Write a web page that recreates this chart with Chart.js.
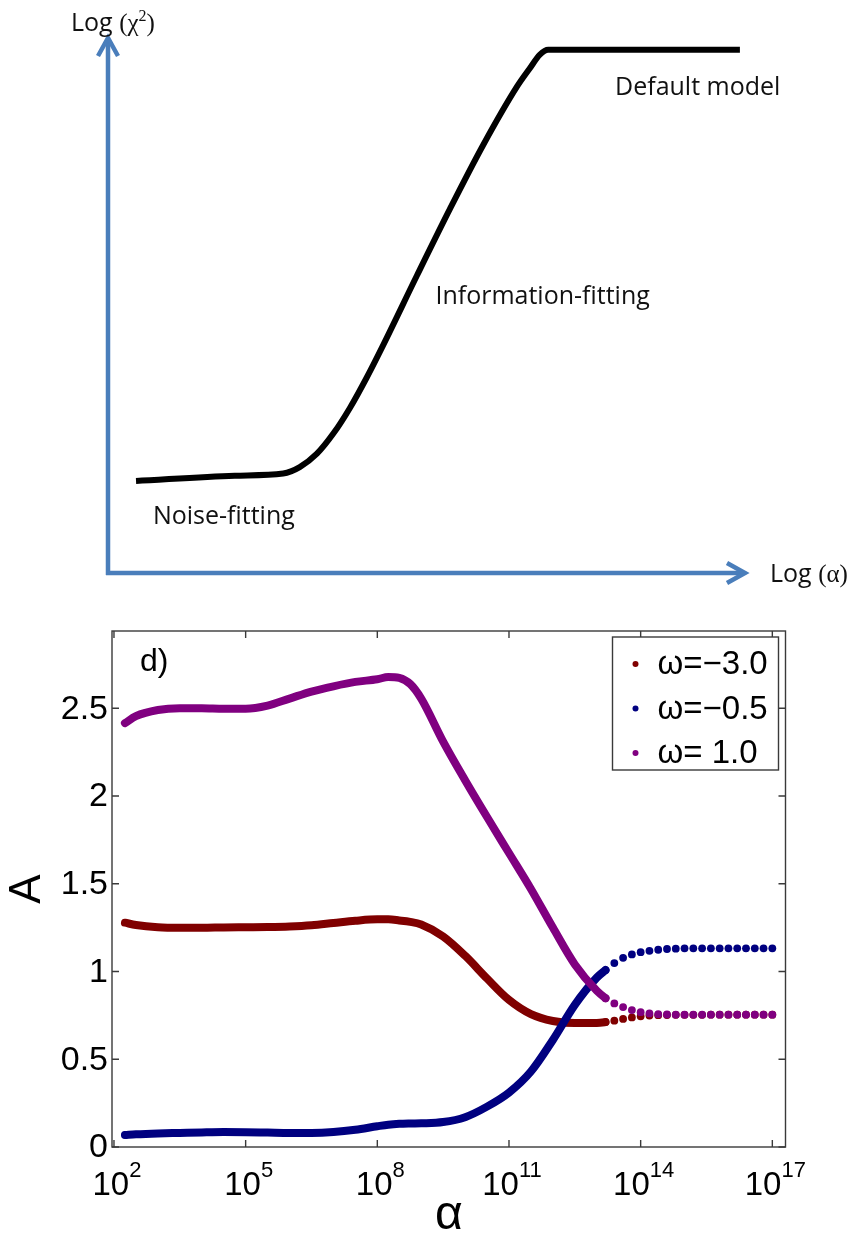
<!DOCTYPE html>
<html>
<head>
<meta charset="utf-8">
<script src="https://cdn.jsdelivr.net/npm/chart.js@4.4.0/dist/chart.umd.min.js"></script>
<style>
    body { margin: 0; background: #fff; }
    canvas { display: block; }
</style>
</head>
<body>
<canvas id="grafico-esquema" width="856" height="600"></canvas>
<canvas id="grafico-alpha" width="856" height="634"></canvas>
<script>
// ---------------------------- dados do esquema (painel de cima) ---------------
const curveX = [4.4, 19.9, 27.5, 30.1, 32.8, 35.4, 38.0, 40.6, 43.2, 48.5, 53.7, 58.9, 64.2, 66.2, 67.8, 69.1, 99.2];
const curveY = [17.2, 18.2, 18.6, 19.8, 22.3, 26.1, 30.9, 36.5, 42.6, 55.6, 68.1, 80.0, 90.9, 94.3, 96.9, 97.8, 97.8];

// ---------------------------- dados de A(alpha) (painel de baixo) ---------------
// expoentes de alpha (alpha = 10^e)
const alphaExp = [2.25, 2.5, 3, 3.5, 4, 4.5, 5, 5.5, 6, 6.5, 7, 7.5, 8, 8.25, 8.5, 8.75, 9, 9.5, 10, 10.5, 11, 11.5, 12, 12.5, 13,
    13.2, 13.4, 13.6, 13.8, 14, 14.2, 14.4, 14.6, 14.8, 15, 15.2, 15.4, 15.6, 15.8, 16, 16.2, 16.4, 16.6, 16.8, 17];

const aOmegaM30 = [1.278, 1.265, 1.252, 1.249, 1.249, 1.251, 1.252, 1.253, 1.256, 1.263, 1.276, 1.289, 1.297, 1.297, 1.291, 1.283,
    1.268, 1.200, 1.090, 0.960, 0.838, 0.757, 0.718, 0.706, 0.707,
    0.712, 0.720, 0.730, 0.738, 0.745, 0.749, 0.751, 0.752, 0.753, 0.753, 0.753, 0.753, 0.754, 0.754, 0.754, 0.754,
    0.754, 0.754, 0.754, 0.754];

const aOmegaM05 = [0.068, 0.072, 0.077, 0.080, 0.083, 0.085, 0.084, 0.082, 0.080, 0.080, 0.085, 0.098, 0.118, 0.127, 0.132, 0.134,
    0.135, 0.142, 0.170, 0.230, 0.310, 0.430, 0.610, 0.810, 0.965,
    1.008, 1.048, 1.078, 1.097, 1.110, 1.118, 1.124, 1.128, 1.130, 1.132, 1.132, 1.132, 1.132, 1.132, 1.132, 1.132,
    1.132, 1.132, 1.132, 1.132];

const aOmegaP10 = [2.415, 2.455, 2.490, 2.500, 2.500, 2.497, 2.497, 2.515, 2.555, 2.595, 2.625, 2.650, 2.665, 2.678, 2.673, 2.638,
    2.555, 2.310, 2.090, 1.880, 1.675, 1.470, 1.250, 1.040, 0.890,
    0.848, 0.818, 0.797, 0.780, 0.768, 0.761, 0.757, 0.755, 0.754, 0.754, 0.754, 0.754, 0.754, 0.754, 0.754, 0.754,
    0.754, 0.754, 0.754, 0.754];

const seriesLabels = ['ω=−3.0', 'ω=−0.5', 'ω= 1.0'];
const xTickExp = [2, 5, 8, 11, 14, 17];
const yTicks = [0, 0.5, 1, 1.5, 2, 2.5];
const yTickLabels = ['0', '0.5', '1', '1.5', '2', '2.5'];

// a partir daqui os pontos aparecem separados
const dotStart = 13.2;

const SANS = '"Liberation Sans", Arial, sans-serif';
const CALIBRI = '"Open Sans", "Noto Sans", sans-serif';
const SERIF = '"Liberation Serif", "Times New Roman", serif';

function textoMisto(ctx, partes, x, y) {
    partes.forEach(function (p) {
        ctx.font = p.font;
        ctx.fillText(p.t, x, y + (p.dy || 0));
        x += ctx.measureText(p.t).width;
    });
}

//---------------------------- painel de cima: esquema chi2 x alpha ---------------

const esquemaPlugin = {
    id: 'esquema',
    beforeDatasetsDraw(chart) {
        const ctx = chart.ctx;
        const a = chart.chartArea;
        ctx.save();
        ctx.strokeStyle = '#4a7ebb';
        ctx.lineWidth = 4.5;
        ctx.lineCap = 'butt';
        ctx.beginPath();
        ctx.moveTo(a.left, a.bottom + 2);
        ctx.lineTo(a.left, a.top + 3);
        ctx.moveTo(a.left - 2, a.bottom);
        ctx.lineTo(a.right - 3, a.bottom);
        ctx.stroke();

        ctx.lineJoin = 'miter';
        ctx.beginPath();
        ctx.moveTo(a.left - 10, a.top + 18);
        ctx.lineTo(a.left, a.top);
        ctx.lineTo(a.left + 10, a.top + 18);
        ctx.moveTo(a.right - 18, a.bottom - 10);
        ctx.lineTo(a.right, a.bottom);
        ctx.lineTo(a.right - 18, a.bottom + 10);
        ctx.stroke();

        ctx.fillStyle = '#111';
        ctx.textAlign = 'left';
        ctx.textBaseline = 'alphabetic';
        textoMisto(ctx, [
            { t: 'Log ', font: '25px ' + CALIBRI },
            { t: '(χ', font: '25px ' + SERIF },
            { t: '2', font: '16px ' + SERIF, dy: -10 },
            { t: ')', font: '25px ' + SERIF }
        ], a.left - 37, a.top - 7);
        textoMisto(ctx, [
            { t: 'Log ', font: '25px ' + CALIBRI },
            { t: '(α)', font: '25px ' + SERIF }
        ], a.right + 25, a.bottom + 9);

        const sx = chart.scales.x;
        const sy = chart.scales.y;
        ctx.font = '25px ' + CALIBRI;
        ctx.fillText('Noise-fitting', sx.getPixelForValue(7.05), sy.getPixelForValue(9.2));
        ctx.fillText('Information-fitting', sx.getPixelForValue(51.4), sy.getPixelForValue(50.3));
        ctx.fillText('Default model', sx.getPixelForValue(79.6), sy.getPixelForValue(89.3));
        ctx.restore();
    }
};

const dataEsquema = {
    datasets: [{
        data: curveX.map(function (v, i) { return { x: v, y: curveY[i] }; }),
        borderColor: '#000',
        borderWidth: 6,
        pointRadius: 0,
        cubicInterpolationMode: 'monotone',
        borderCapStyle: 'butt',
        borderJoinStyle: 'round',
        fill: false
    }]
};

const configEsquema = {
    type: 'line',
    data: dataEsquema,
    options: {
        responsive: false,
        animation: false,
        layout: { padding: { left: 108, right: 111, top: 38, bottom: 27 } },
        plugins: { legend: { display: false }, tooltip: { enabled: false } },
        scales: {
            x: { type: 'linear', min: 0, max: 100, display: false },
            y: { type: 'linear', min: 0, max: 100, display: false }
        }
    },
    plugins: [esquemaPlugin]
};

const graficoEsquema = new Chart(document.getElementById('grafico-esquema'), configEsquema);

//---------------------------- painel de baixo: A x alpha ---------------

const molduraPlugin = {
    id: 'moldura',
    afterDraw(chart) {
        const ctx = chart.ctx;
        const a = chart.chartArea;
        const x = chart.scales.x;
        const y = chart.scales.y;
        ctx.save();

        // caixa e ticks para dentro
        ctx.strokeStyle = '#3a3a3a';
        ctx.lineWidth = 1.4;
        ctx.strokeRect(a.left, a.top, a.right - a.left, a.bottom - a.top);
        ctx.beginPath();
        xTickExp.forEach(function (e) {
            const px = x.getPixelForValue(Math.pow(10, e));
            ctx.moveTo(px, a.bottom); ctx.lineTo(px, a.bottom - 7);
            ctx.moveTo(px, a.top); ctx.lineTo(px, a.top + 7);
        });
        yTicks.forEach(function (v) {
            const py = y.getPixelForValue(v);
            ctx.moveTo(a.left, py); ctx.lineTo(a.left + 7, py);
            ctx.moveTo(a.right, py); ctx.lineTo(a.right - 7, py);
        });
        ctx.stroke();

        // rotulos
        ctx.fillStyle = '#000';
        ctx.textBaseline = 'middle';
        ctx.textAlign = 'right';
        ctx.font = '34px ' + SANS;
        yTicks.forEach(function (v, i) {
            ctx.fillText(yTickLabels[i], a.left - 4, y.getPixelForValue(v) + 1);
        });

        ctx.textAlign = 'left';
        ctx.textBaseline = 'alphabetic';
        xTickExp.forEach(function (e) {
            const px = x.getPixelForValue(Math.pow(10, e));
            ctx.font = '33px ' + SANS;
            const wBase = ctx.measureText('10').width;
            ctx.font = '22px ' + SANS;
            const wExp = ctx.measureText(String(e)).width;
            const left = px - (wBase + wExp) / 2 + 3;
            ctx.font = '33px ' + SANS;
            ctx.fillText('10', left, a.bottom + 48);
            ctx.font = '22px ' + SANS;
            ctx.fillText(String(e), left + wBase, a.bottom + 30);
        });

        ctx.textAlign = 'center';
        ctx.font = '48px ' + SANS;
        ctx.fillText('α', (a.left + a.right) / 2, a.bottom + 82);

        ctx.save();
        ctx.translate(28, (a.top + a.bottom) / 2);
        ctx.rotate(-Math.PI / 2);
        ctx.textBaseline = 'middle';
        ctx.font = '44px ' + SANS;
        ctx.fillText('A', 0, 0);
        ctx.restore();

        ctx.textAlign = 'left';
        ctx.font = '32px ' + SANS;
        ctx.fillText('d)', a.left + 28, a.top + 40);

        // legenda
        const lx = a.right - 173;
        const ly = a.top + 6;
        ctx.fillStyle = '#fff';
        ctx.fillRect(lx, ly, 166, 133);
        ctx.strokeStyle = '#3a3a3a';
        ctx.lineWidth = 1.4;
        ctx.strokeRect(lx, ly, 166, 133);
        ctx.textBaseline = 'middle';
        ctx.font = '33px ' + SANS;
        chart.data.datasets.forEach(function (ds, i) {
            const cy = ly + 27 + i * 44.5;
            ctx.fillStyle = ds.pointBackgroundColor;
            ctx.beginPath();
            ctx.arc(lx + 23, cy, 3, 0, Math.PI * 2);
            ctx.fill();
            ctx.fillStyle = '#000';
            ctx.fillText(ds.label, lx + 45, cy + 1);
        });
        ctx.restore();
    }
};

function serie(label, values, color, order) {
    return {
        label: label,
        data: alphaExp.map(function (e, i) { return { x: Math.pow(10, e), y: values[i] }; }),
        borderColor: color,
        pointBackgroundColor: color,
        pointBorderWidth: 0,
        borderWidth: 8,
        borderCapStyle: 'round',
        borderJoinStyle: 'round',
        cubicInterpolationMode: 'monotone',
        fill: false,
        order: order,
        pointRadius: function (ctx) { return alphaExp[ctx.dataIndex] >= dotStart ? 3.9 : 0; },
        segment: {
            borderColor: function (ctx) { return alphaExp[ctx.p1DataIndex] > dotStart ? 'rgba(0,0,0,0)' : color; }
        }
    };
}

const dataAlpha = {
    datasets: [
        serie(seriesLabels[0], aOmegaM30, '#800000', 2),
        serie(seriesLabels[1], aOmegaM05, '#000080', 1),
        serie(seriesLabels[2], aOmegaP10, '#800080', 0)
    ]
};

const configAlpha = {
    type: 'line',
    data: dataAlpha,
    options: {
        responsive: false,
        animation: false,
        layout: { padding: { left: 112, right: 70.5, top: 31, bottom: 87 } },
        plugins: { legend: { display: false }, tooltip: { enabled: false } },
        scales: {
            x: { type: 'logarithmic', min: Math.pow(10, 1.955), max: Math.pow(10, 17.3), bounds: 'data', display: false },
            y: { type: 'linear', min: 0, max: 2.94, display: false }
        }
    },
    plugins: [molduraPlugin]
};

const graficoAlpha = new Chart(document.getElementById('grafico-alpha'), configAlpha);
</script>
</body>
</html>
